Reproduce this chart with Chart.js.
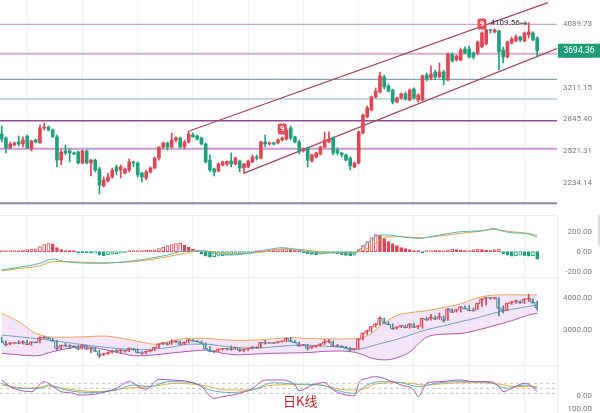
<!DOCTYPE html>
<html>
<head>
<meta charset="utf-8">
<script src="https://cdn.jsdelivr.net/npm/chart.js@4.4.0/dist/chart.umd.min.js"></script>
<style>
    body { margin: 0; background: #fff; width: 600px; height: 413px; overflow: hidden; position: relative; }
    canvas { position: absolute; left: 0; }
    .sep { position: absolute; background: #ececec; }
    .title { position: absolute; left: 283px; top: 391px; font: 13px 'Noto Sans CJK SC', sans-serif; color: #b3262c; }
</style>
</head>
<body>
<canvas id="main" width="600" height="207" style="top:0"></canvas>
<canvas id="macd" width="600" height="62" style="top:215px"></canvas>
<canvas id="boll" width="600" height="88" style="top:277px"></canvas>
<canvas id="kdj" width="600" height="48" style="top:365px"></canvas>
<div class="sep" style="left:0;top:215px;width:558px;height:1px"></div>
<div class="sep" style="left:0;top:277px;width:558px;height:1px"></div>
<div class="sep" style="left:0;top:365px;width:558px;height:1px"></div>
<div class="sep" style="left:557px;top:215px;width:1px;height:198px"></div>
<div class="sep" style="left:598px;top:215px;width:2px;height:30px;background:#ddd"></div>
<div class="title">日K线</div>
<script>
// daily candles
const candleOpen = [2692, 2651, 2553, 2582, 2611, 2592, 2672, 2543, 2631, 2602, 2754, 2765, 2733, 2662, 2438, 2524, 2524, 2505, 2514, 2411,
    2524, 2411, 2438, 2357, 2209, 2251, 2286, 2375, 2347, 2321, 2347, 2420, 2411, 2321, 2277, 2330, 2366, 2457, 2562, 2602,
    2562, 2631, 2651, 2562, 2611, 2682, 2672, 2651, 2592, 2438, 2357, 2339, 2393, 2400, 2429, 2402, 2429, 2366, 2375, 2420,
    2467, 2457, 2611, 2592, 2602, 2602, 2631, 2641, 2754, 2662, 2611, 2524, 2553, 2429, 2467, 2495, 2562, 2611, 2651, 2533,
    2505, 2486, 2457, 2375, 2411, 2702, 2872, 2949, 3099, 3158, 3344, 3231, 3182, 3040, 3087, 3135, 3063, 3194, 3063, 3063,
    3369, 3331, 3408, 3344, 3408, 3305, 3649, 3567, 3567, 3719, 3719, 3663, 3663, 3748, 3791, 3998, 3968, 3983, 3705, 3608,
    3805, 3834, 3893, 3834, 3923, 3953, 3878];
const candleHigh = [2775, 2662, 2611, 2611, 2672, 2662, 2682, 2631, 2641, 2786, 2807, 2775, 2744, 2682, 2533, 2582, 2543, 2514, 2524, 2533,
    2533, 2448, 2448, 2375, 2286, 2321, 2366, 2393, 2393, 2366, 2448, 2429, 2420, 2330, 2347, 2375, 2467, 2565, 2611, 2611,
    2702, 2662, 2662, 2631, 2713, 2702, 2682, 2662, 2602, 2486, 2366, 2411, 2429, 2429, 2505, 2467, 2438, 2411, 2438, 2486,
    2486, 2621, 2682, 2611, 2611, 2641, 2662, 2754, 2775, 2672, 2631, 2553, 2562, 2495, 2514, 2572, 2713, 2713, 2662, 2553,
    2514, 2495, 2467, 2420, 2723, 2905, 2995, 3111, 3207, 3408, 3369, 3256, 3194, 3099, 3146, 3158, 3194, 3207, 3135, 3369,
    3395, 3487, 3433, 3527, 3433, 3663, 3663, 3636, 3733, 3748, 3762, 3677, 3834, 3968, 4013, 4005, 4013, 3998, 3748, 3834,
    3893, 3923, 3908, 3968, 4109.56, 3968, 3893];
const candleLow = [2611, 2505, 2543, 2572, 2572, 2562, 2550, 2524, 2602, 2600, 2733, 2723, 2660, 2375, 2393, 2486, 2420, 2486, 2402, 2402,
    2402, 2295, 2330, 2143, 2201, 2243, 2277, 2304, 2277, 2312, 2330, 2375, 2286, 2243, 2260, 2321, 2357, 2438, 2543, 2533,
    2553, 2611, 2553, 2543, 2602, 2660, 2631, 2582, 2411, 2330, 2295, 2330, 2384, 2384, 2375, 2393, 2330, 2321, 2366, 2411,
    2438, 2448, 2562, 2582, 2582, 2592, 2621, 2631, 2631, 2602, 2495, 2514, 2375, 2420, 2457, 2486, 2553, 2602, 2486, 2486,
    2467, 2429, 2347, 2366, 2402, 2692, 2861, 2938, 3087, 3146, 3194, 3158, 3018, 3029, 3075, 3063, 3052, 3075, 3040, 3052,
    3293, 3305, 3318, 3331, 3244, 3293, 3540, 3553, 3553, 3649, 3594, 3580, 3636, 3733, 3777, 3950, 3953, 3433, 3527, 3594,
    3791, 3820, 3820, 3820, 3878, 3834, 3608];
const candleClose = [2641, 2553, 2592, 2602, 2592, 2631, 2553, 2621, 2611, 2754, 2765, 2733, 2662, 2438, 2514, 2505, 2505, 2495, 2411, 2524,
    2411, 2438, 2347, 2218, 2260, 2286, 2347, 2339, 2375, 2357, 2420, 2411, 2304, 2286, 2330, 2366, 2457, 2562, 2602, 2562,
    2631, 2651, 2562, 2611, 2692, 2662, 2641, 2592, 2420, 2347, 2330, 2402, 2420, 2425, 2402, 2457, 2366, 2402, 2429, 2467,
    2457, 2611, 2592, 2602, 2592, 2631, 2651, 2733, 2651, 2611, 2514, 2543, 2438, 2486, 2505, 2562, 2631, 2641, 2505, 2505,
    2486, 2438, 2384, 2411, 2713, 2894, 2972, 3099, 3170, 3357, 3219, 3170, 3040, 3087, 3135, 3075, 3182, 3087, 3123, 3357,
    3318, 3382, 3344, 3408, 3305, 3649, 3553, 3622, 3705, 3663, 3608, 3608, 3820, 3953, 3998, 3990, 3998, 3677, 3608, 3820,
    3863, 3893, 3848, 3953, 3968, 3848, 3694.36];

const priceTicks = [4089.73, 3623.91, 3211.15, 2845.40, 2521.31, 2234.14];
const levelValues = [4085, 3653, 3314, 3075, 2831, 2546, 2068];
const levelColors = ['#c98ac0', '#cfaed2', '#6f8e9f', '#8db3cf', '#8a4f92', '#c79ad2', '#8c89a8'];
const levelWidths = [1, 2, 1, 1, 1.5, 2, 2];
const channelUpperIdx = [43.8, 128.5];
const channelUpperVal = [2718, 4437];
const channelLowerIdx = [56.9, 130.66];
const channelLowerVal = [2318, 3726];
const tdMarkIdx = [66, 113];
const gridIdx = [6, 19, 32, 45, 58, 71, 84, 97, 110, 123];

// MACD
const macdHist = [5, 5, 5, 5, 6, 15, 20, 25, 28, 50, 70, 80, 78, 40, 20, 5, 3, 2, -5, -8,
    -12, -15, -15, -35, -40, -30, -25, -20, -15, -10, 5, 8, 10, 12, 15, 15, 18, 30, 45, 60,
    70, 80, 85, 65, 45, 25, 10, -25, -45, -55, -50, -45, -40, -35, -30, -25, -20, -18, -12, -8,
    5, 8, 12, 16, 20, 25, 28, 30, 22, 12, 5, -10, -20, -28, -30, -25, -10, -5, -8, -20,
    -30, -38, -42, -35, 20, 60, 100, 140, 170, 160, 130, 100, 80, 60, 40, 30, 20, 8, 5, -5,
    8, 12, 15, 10, 12, 18, 25, 20, 15, 8, 12, 20, 25, 22, 15, 10, 20, 25, -20, -35,
    -45, -40, -35, -40, -45, -40, -75];
const macdIdx = [0, 4, 9, 12, 15, 23, 31, 39, 43, 47, 51, 54, 58, 62, 66, 70, 75, 80, 83, 84, 87, 89, 91, 94, 98, 103, 108, 113, 116, 117, 120, 124, 126];
const macdDif = [-183, -156, -116, -73, -100, -116, -90, -33, 7, 10, -23, -33, -17, 17, 40, 17, -17, -10, -17, 17, 117, 167, 167, 150, 133, 167, 200, 210, 233, 215, 190, 177, 143];
const macdDea = [-190, -170, -140, -100, -100, -110, -100, -50, -17, 10, -10, -23, -17, 0, 27, 23, 0, -10, -10, 0, 50, 117, 150, 150, 140, 157, 183, 207, 223, 217, 200, 183, 160];
const macdTicks = [200, 0, -200];

// Bollinger bands
const bollIdx = [0, 4, 8, 12, 16, 20, 24, 28, 32, 36, 40, 44, 48, 52, 56, 60, 64, 68, 72, 76, 80, 84, 87, 90, 93, 96, 100, 104, 108, 112, 116, 120, 124, 126];
const bollUpper = [3517, 3257, 2900, 2780, 2775, 2795, 2814, 2750, 2650, 2560, 2660, 2743, 2740, 2700, 2675, 2690, 2730, 2762, 2735, 2725,
    2720, 2740, 2897, 3220, 3450, 3536, 3600, 3700, 3810, 4000, 4080, 4090, 4085, 4084];
const bollMid = [2845, 2790, 2735, 2670, 2600, 2530, 2470, 2420, 2385, 2410, 2470, 2560, 2560, 2500, 2450, 2440, 2480, 2520, 2530, 2500,
    2460, 2410, 2505, 2610, 2710, 2840, 3010, 3130, 3260, 3380, 3530, 3640, 3730, 3774];
const bollLower = [2279, 2230, 2200, 2330, 2440, 2480, 2400, 2280, 2200, 2230, 2290, 2340, 2380, 2280, 2230, 2260, 2280, 2290, 2300, 2340,
    2350, 2280, 2130, 2075, 2140, 2320, 2780, 2870, 2890, 3000, 3140, 3290, 3464, 3517];
const bollTicks = [4000, 3000];

// KDJ
const kdjJIdx = [0, 2, 4, 7, 10, 11, 14, 17, 18, 22, 23, 27, 30, 33, 34, 37, 40, 44, 47, 50, 52, 56, 59, 62, 66, 69, 70, 73, 76, 78,
    81, 83, 84, 86, 88, 91, 94, 97, 98, 100, 103, 108, 111, 115, 117, 118, 120, 123, 124, 126];
const kdjJ = [100, 60, 40, 30, 90, 80, 30, 20, 10, 15, 20, 50, 90, 50, 45, 104, 100, 90, 60, -10, 0, 20, 50, 100, 100, 70, 35, 70, 85, 40,
    10, 5, 80, 110, 120, 100, 70, 40, 0, 80, 90, 100, 90, 90, 60, 30, 50, 80, 75, 30];
const kdjKIdx = [0, 4, 9, 11, 15, 21, 27, 31, 35, 39, 45, 49, 54, 59, 64, 69, 75, 80, 83, 86, 89, 94, 98, 103, 110, 115, 119, 123, 126];
const kdjK = [80, 50, 50, 70, 40, 25, 40, 70, 60, 90, 84, 40, 25, 40, 84, 76, 70, 30, 20, 70, 90, 84, 60, 84, 90, 84, 50, 70, 50];
const kdjDIdx = [0, 6, 11, 17, 23, 29, 35, 41, 47, 53, 58, 64, 70, 75, 81, 84, 88, 94, 100, 105, 111, 117, 121, 124, 126];
const kdjD = [70, 50, 60, 40, 30, 50, 60, 80, 70, 40, 40, 70, 72, 70, 40, 40, 76, 84, 70, 80, 84, 76, 60, 62, 60];
const kdjLevels = [80, 50, 20];
const kdjTickVals = [3.8, -76];
const kdjTickLabels = ['0.00', '100.00'];

const UP = '#dc4856';
const DOWN = '#21a07b';
const X_MIN = -0.4;
const X_MAX = 130.66;
const TICK_FONT = { family: 'Roboto', size: 8 };

const isUp = (i) => candleClose[i] >= candleOpen[i];
const candleColors = candleOpen.map((o, i) => (isUp(i) ? UP : DOWN));
const pts = (xs, ys) => xs.map((x, i) => ({ x, y: ys[i] }));
const flat = (v) => [{ x: X_MIN, y: v }, { x: X_MAX, y: v }];

function xAxis() {
    return {
        type: 'linear',
        min: X_MIN,
        max: X_MAX,
        offset: false,
        afterBuildTicks: (s) => { s.ticks = gridIdx.map((v) => ({ value: v })); },
        afterFit: (s) => { s.height = 0; s.paddingLeft = 0; s.paddingRight = 0; },
        ticks: { display: false },
        grid: { color: '#f0f0f0', drawTicks: false, offset: false },
        border: { display: false },
    };
}

function yAxis(type, min, max, tickVals, label) {
    return {
        type,
        min,
        max,
        position: 'right',
        afterBuildTicks: (s) => { s.ticks = tickVals.map((v) => ({ value: v })); },
        afterFit: (s) => { s.width = 35; s.paddingTop = 0; s.paddingBottom = 0; },
        grid: { display: false, drawTicks: false },
        border: { display: false },
        ticks: {
            autoSkip: false,
            crossAlign: 'far',
            padding: 6,
            color: '#7a7a7a',
            font: TICK_FONT,
            callback: label,
        },
    };
}

const baseOptions = {
    responsive: false,
    animation: false,
    events: [],
    layout: { padding: { left: 0, right: 8, top: 0, bottom: 0 } },
    plugins: { legend: { display: false }, tooltip: { enabled: false } },
};

const lineDs = (data, color, width, extra) => Object.assign({
    type: 'line',
    data,
    borderColor: color,
    borderWidth: width,
    pointRadius: 0,
    fill: false,
}, extra);

// markers, max label and last price tag
const overlay = {
    id: 'overlay',
    afterDatasetsDraw(chart) {
        const { ctx, chartArea } = chart;
        const x = chart.scales.x;
        const y = chart.scales.y;
        ctx.save();
        ctx.textBaseline = 'middle';

        tdMarkIdx.forEach((i) => {
            const px = x.getPixelForValue(i);
            const py = y.getPixelForValue(candleHigh[i]) - 8;
            ctx.fillStyle = '#e2505c';
            ctx.beginPath();
            ctx.roundRect(px - 4.5, py - 5.5, 9, 11, 2);
            ctx.fill();
            ctx.fillStyle = '#fff';
            ctx.font = 'bold 8px Roboto';
            ctx.textAlign = 'center';
            ctx.fillText('9', px, py + 0.5);
        });

        const hi = Math.max(...candleHigh);
        const hiIdx = candleHigh.indexOf(hi);
        const hx = x.getPixelForValue(hiIdx);
        const hy = y.getPixelForValue(hi);
        ctx.strokeStyle = '#444';
        ctx.lineWidth = 1;
        ctx.beginPath();
        ctx.moveTo(hx - 9, hy + 0.5);
        ctx.lineTo(hx - 2, hy + 0.5);
        ctx.moveTo(hx - 4, hy - 1.5);
        ctx.lineTo(hx - 2, hy + 0.5);
        ctx.lineTo(hx - 4, hy + 2.5);
        ctx.stroke();
        ctx.fillStyle = '#333';
        ctx.font = '8px Roboto';
        ctx.textAlign = 'right';
        ctx.fillText(hi.toFixed(2), hx - 9, hy);

        const last = candleClose[candleClose.length - 1];
        const ly = y.getPixelForValue(last);
        ctx.fillStyle = '#1e9c76';
        ctx.fillRect(chartArea.right + 1, ly - 7, 42, 14);
        ctx.fillStyle = '#fff';
        ctx.textAlign = 'center';
        ctx.font = '8.5px Roboto';
        ctx.fillText(last.toFixed(2), chartArea.right + 22, ly + 0.5);
        ctx.restore();
    },
};

new Chart(document.getElementById('main'), {
    type: 'bar',
    data: {
        datasets: [
            {
                data: candleOpen.map((o, i) => ({ x: i, y: [o, candleClose[i]] })),
                backgroundColor: candleColors,
                barThickness: 3,
                minBarLength: 1,
                grouped: false,
            },
            {
                data: candleLow.map((l, i) => ({ x: i, y: [l, candleHigh[i]] })),
                backgroundColor: candleColors,
                barThickness: 1,
                grouped: false,
            },
            lineDs(pts(channelUpperIdx, channelUpperVal), '#a4475e', 1.2),
            lineDs(pts(channelLowerIdx, channelLowerVal), '#a4475e', 1.2),
            ...levelValues.map((v, i) => lineDs(flat(v), levelColors[i], levelWidths[i])),
        ],
    },
    options: Object.assign({}, baseOptions, {
        scales: {
            x: xAxis(),
            y: yAxis('logarithmic', 2039.6, 4480.4, priceTicks, (v) => Number(v).toFixed(2)),
        },
    }),
    plugins: [overlay],
});

new Chart(document.getElementById('macd'), {
    type: 'bar',
    data: {
        datasets: [
            lineDs(pts(macdIdx, macdDif), '#58b4b4', 1, { cubicInterpolationMode: 'monotone' }),
            lineDs(pts(macdIdx, macdDea), '#e6a348', 1, { cubicInterpolationMode: 'monotone' }),
            {
                data: macdHist.map((v, i) => ({ x: i, y: v })),
                backgroundColor: macdHist.map((v, i) => (i > 0 && v < macdHist[i - 1] ? (v >= 0 ? UP : DOWN) : '#fff')),
                borderColor: macdHist.map((v) => (v >= 0 ? UP : DOWN)),
                borderWidth: 1,
                borderSkipped: false,
                barThickness: 3,
                minBarLength: 1,
                grouped: false,
            },
        ],
    },
    options: Object.assign({}, baseOptions, {
        scales: {
            x: xAxis(),
            y: yAxis('linear', -253, 367, macdTicks, (v) => Number(v).toFixed(2)),
        },
    }),
});

new Chart(document.getElementById('boll'), {
    type: 'bar',
    data: {
        datasets: [
            lineDs(pts(candleClose.map((c, i) => i), candleClose), '#4a8799', 1, {
                stepped: 'middle',
                segment: { borderColor: (c) => (candleClose[c.p1DataIndex] >= candleClose[c.p0DataIndex] ? UP : '#4a8799') },
            }),
            {
                data: candleLow.map((l, i) => ({ x: i, y: [l, candleHigh[i]] })),
                backgroundColor: candleOpen.map((o, i) => (isUp(i) ? UP : '#4a8799')),
                barThickness: 1,
                grouped: false,
            },
            lineDs(pts(bollIdx, bollUpper), '#e9a65c', 1, { cubicInterpolationMode: 'monotone', fill: { target: 4 }, backgroundColor: 'rgba(214, 160, 232, 0.28)' }),
            lineDs(pts(bollIdx, bollMid), '#4ea2b2', 1, { cubicInterpolationMode: 'monotone' }),
            lineDs(pts(bollIdx, bollLower), '#a24fa6', 1, { cubicInterpolationMode: 'monotone' }),
        ],
    },
    options: Object.assign({}, baseOptions, {
        scales: {
            x: xAxis(),
            y: yAxis('linear', 1916, 4641, bollTicks, (v) => Number(v).toFixed(2)),
        },
    }),
});

new Chart(document.getElementById('kdj'), {
    type: 'line',
    data: {
        datasets: [
            lineDs(pts(kdjJIdx, kdjJ), '#a95aae', 1, { cubicInterpolationMode: 'monotone' }),
            lineDs(pts(kdjKIdx, kdjK), '#5fb3b8', 1, { cubicInterpolationMode: 'monotone' }),
            lineDs(pts(kdjDIdx, kdjD), '#e3b04e', 1, { cubicInterpolationMode: 'monotone' }),
            ...kdjLevels.map((v) => lineDs(flat(v), '#c4c4c4', 1, { borderDash: [3, 3] })),
        ],
    },
    options: Object.assign({}, baseOptions, {
        scales: {
            x: xAxis(),
            y: yAxis('linear', -98, 190, kdjTickVals, (v, i) => kdjTickLabels[i]),
        },
    }),
});
</script>
</body>
</html>
